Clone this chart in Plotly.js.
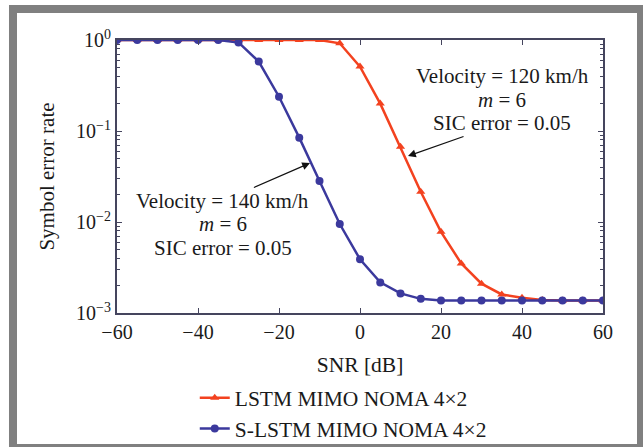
<!DOCTYPE html>
<html>
<head>
<meta charset="utf-8">
<script src="https://cdn.plot.ly/plotly-3.0.1.min.js"></script>
<style>
  html, body { margin: 0; padding: 0; background: #ffffff; }
  #chart { width: 643px; height: 447px; }
</style>
</head>
<body>
<div id="chart"></div>
<script>
// SNR values (dB)
const snr = [-60, -55, -50, -45, -40, -35, -30, -25, -20, -15, -10, -5, 0, 5, 10, 15, 20, 25, 30, 35, 40, 45, 50, 55, 60];

// LSTM MIMO NOMA 4x2 (red)
const lstmSER = [1, 1, 1, 1, 1, 1, 1, 1, 1, 1, 1, 0.92, 0.51, 0.20, 0.067, 0.0215, 0.0078, 0.0035, 0.0021, 0.0016, 0.00147, 0.00139, 0.00137, 0.00137, 0.00137];

// S-LSTM MIMO NOMA 4x2 (blue)
const slstmSER = [1, 1, 1, 1, 1, 1, 0.94, 0.58, 0.238, 0.0845, 0.0282, 0.0095, 0.0039, 0.00217, 0.00164, 0.00143, 0.00137, 0.00137, 0.00137, 0.00137, 0.00137, 0.00137, 0.00137, 0.00137, 0.00137];

const seriesNames = ['LSTM MIMO NOMA 4×2', 'S-LSTM MIMO NOMA 4×2'];

const yTickVals = [1, 0.1, 0.01, 0.001];
const yTickText = ['10<sup>0</sup>', '10<sup>−1</sup>', '10<sup>−2</sup>', '10<sup>−3</sup>'];

const xTickVals = [-60, -40, -20, 0, 20, 40, 60];

const noteRightLines = ['Velocity = 120 km/h', '<i>m</i> = 6', 'SIC error = 0.05'];
const noteLeftLines = ['Velocity = 140 km/h', '<i>m</i> = 6', 'SIC error = 0.05'];

const FONT = 'Liberation Serif, Times New Roman, serif';
const RED = '#f3421f';
const BLUE = '#3b399d';
const AXIS = '#45455e';
const TXT = '#1a1a1a';

const traces = [
  {
    x: snr, y: lstmSER, name: seriesNames[0], type: 'scatter', mode: 'lines+markers',
    line: { color: RED, width: 2.5 },
    marker: { symbol: 'triangle-up', size: 8, color: RED }
  },
  {
    x: snr, y: slstmSER, name: seriesNames[1], type: 'scatter', mode: 'lines+markers',
    line: { color: BLUE, width: 2.5 },
    marker: { symbol: 'circle', size: 8, color: BLUE }
  }
];

// log positions (decades) of the note lines
const rightX = 35.1, rightY = [-0.396, -0.659, -0.912];
const leftX = -33.8, leftY = [-1.769, -2.025, -2.289];
const noteFont = { family: FONT, size: 21, color: TXT };

const annotations = [];
annotations.push({ x: rightX, y: rightY[0], xref: 'x', yref: 'y', text: noteRightLines[0], showarrow: false, font: noteFont });
annotations.push({ x: rightX, y: rightY[1], xref: 'x', yref: 'y', text: noteRightLines[1], showarrow: false, font: noteFont });
// arrow head on the red curve; text placed at pixel offset from the head
annotations.push({ x: 11.85, y: -1.275, xref: 'x', yref: 'y', text: noteRightLines[2], showarrow: true,
  ax: 94, ay: -33, arrowhead: 2, arrowsize: 1.3, arrowwidth: 1.2, arrowcolor: '#111111', standoff: 0, font: noteFont });
// arrow head on the blue curve
annotations.push({ x: -12.35, y: -1.352, xref: 'x', yref: 'y', text: noteLeftLines[0], showarrow: true,
  ax: -87, ay: 38, arrowhead: 2, arrowsize: 1.3, arrowwidth: 1.2, arrowcolor: '#111111', standoff: 0, font: noteFont });
annotations.push({ x: leftX, y: leftY[1], xref: 'x', yref: 'y', text: noteLeftLines[1], showarrow: false, font: noteFont });
annotations.push({ x: leftX, y: leftY[2], xref: 'x', yref: 'y', text: noteLeftLines[2], showarrow: false, font: noteFont });

const layout = {
  width: 643, height: 447,
  margin: { l: 117, r: 40, t: 40, b: 134, autoexpand: false },
  paper_bgcolor: '#ffffff',
  plot_bgcolor: '#ffffff',
  font: { family: FONT, size: 20, color: TXT },
  showlegend: true,
  legend: {
    x: 0.16, y: -0.235, xanchor: 'left', yanchor: 'top',
    orientation: 'v', bgcolor: 'rgba(0,0,0,0)',
    font: { family: FONT, size: 21.5, color: TXT },
    tracegroupgap: 0
  },
  xaxis: {
    range: [-60, 60],
    tickvals: xTickVals,
    ticks: 'inside', ticklen: 5, tickwidth: 1, tickcolor: AXIS,
    showline: true, linecolor: AXIS, linewidth: 2, mirror: 'ticks',
    showgrid: false, zeroline: false,
    ticklabelstandoff: 0,
    tickfont: { family: FONT, size: 20, color: TXT },
    title: { text: 'SNR [dB]', font: { family: FONT, size: 21.5, color: TXT }, standoff: 15 }
  },
  yaxis: {
    type: 'log',
    range: [-3, 0],
    tickvals: yTickVals, ticktext: yTickText,
    ticks: 'inside', ticklen: 5, tickwidth: 1, tickcolor: AXIS,
    showline: true, linecolor: AXIS, linewidth: 2, mirror: 'ticks',
    showgrid: false, zeroline: false,
    tickfont: { family: FONT, size: 20, color: TXT },
    minor: { ticks: 'inside', ticklen: 3, tickcolor: AXIS, dtick: 'D1', showgrid: false },
    title: { text: 'Symbol error rate', font: { family: FONT, size: 21, color: TXT }, standoff: 16 }
  },
  annotations: annotations,
  shapes: [
    { type: 'rect', xref: 'paper', yref: 'paper',
      x0: -0.2140, x1: 1.0782, y0: -0.4945, y1: 1.1136,
      line: { color: '#808080', width: 8 }, fillcolor: 'rgba(0,0,0,0)', layer: 'below' }
  ]
};

Plotly.newPlot('chart', traces, layout, { displayModeBar: false, staticPlot: true });
</script>
</body>
</html>
